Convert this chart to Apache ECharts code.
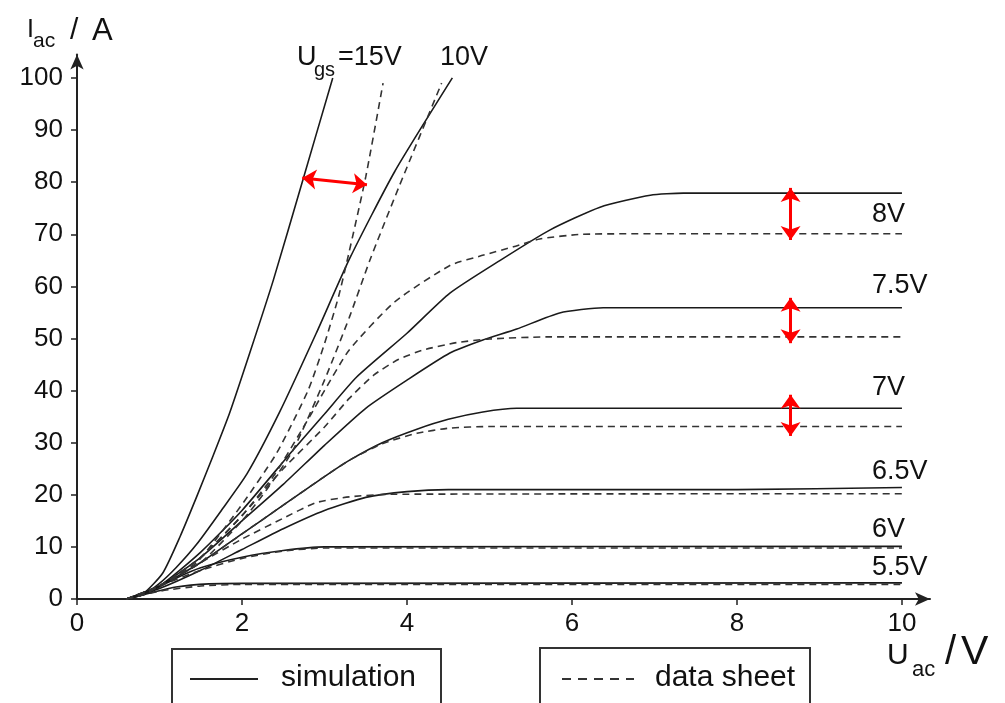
<!DOCTYPE html>
<html><head><meta charset="utf-8">
<script src="https://cdn.jsdelivr.net/npm/echarts@6/dist/echarts.min.js"></script>
<style>html,body{margin:0;padding:0;background:#fff}#c{width:1005px;height:703px}</style>
</head><body><div id="c"></div>
<script>
// ---- data (U_ac in V, I_ac in A) ----
const xTicks = [0, 2, 4, 6, 8, 10];
const yTicks = [0, 10, 20, 30, 40, 50, 60, 70, 80, 90, 100];
const curveLabels = ['8V', '7.5V', '7V', '6.5V', '6V', '5.5V'];

const sim15 = [[0.6,0],[0.8,1],[1.04,5],[1.25,12],[1.45,19.6],[1.65,27.5],[1.85,35.7],[2.1,47.5],[2.38,61.2],[2.73,80],[3.1,100]];
const sim10 = [[0.6,0],[0.8,0.8],[1.0,3],[1.2,6],[1.45,10.5],[1.75,17],[2.06,24],[2.46,36],[2.9,51],[3.31,65.5],[3.85,82],[4.55,100]];
const sim8 = [[0.6,0],[1.0,2.5],[1.5,9],[2.0,17],[2.62,28.6],[3.0,35.5],[3.39,42.6],[4.0,51],[4.52,58.7],[5.13,65],[5.73,70.8],[6.34,75.2],[6.95,77.5],[7.35,77.9],[10,77.9]];
const sim75 = [[0.6,0],[1.0,2.5],[1.5,8],[2.0,15],[2.5,22],[3.0,29.5],[3.5,36.6],[4.0,42],[4.52,47.2],[4.92,49.7],[5.33,51.8],[5.85,54.9],[6.38,55.9],[10,55.9]];
const sim7 = [[0.6,0],[1.0,2.5],[1.5,7],[2.0,12.5],[2.5,18],[3.0,23.5],[3.31,26.7],[3.7,30],[4.12,32.6],[4.5,34.5],[4.92,35.9],[5.33,36.6],[10,36.6]];
const sim65 = [[0.6,0],[1.0,2],[1.5,5.5],[2.0,9.5],[2.5,13.5],[3.0,17],[3.5,19.5],[4.0,20.6],[4.5,21.0],[8.0,21.0],[10,21.4]];
const sim6 = [[0.6,0],[0.9,1.5],[1.2,4],[1.5,6],[2.0,8],[2.5,9.3],[3.0,10],[10,10.1]];
const sim55 = [[0.6,0],[0.9,1.2],[1.2,2.3],[1.6,2.9],[2.0,3.0],[10,3.1]];

const ds15 = [[0.6,0],[0.8,0.8],[1.0,2.5],[1.45,7],[1.98,17.7],[2.42,28],[2.8,40],[3.0,49],[3.17,58],[3.29,66],[3.5,81],[3.71,99]];
const ds10 = [[0.6,0],[0.8,0.8],[1.0,2.5],[1.5,7],[2.0,15],[2.3,21],[2.62,28.6],[3.0,42],[3.3,54],[3.55,65],[3.9,79],[4.42,99]];
const ds8 = [[0.6,0],[1.0,2.5],[1.5,8],[2.0,16],[2.4,24],[2.82,35],[3.0,40],[3.3,47.8],[3.85,57],[4.52,64],[4.93,66],[5.29,67.6],[5.61,69.1],[6.13,70],[7.0,70.1],[10,70.1]];
const ds75 = [[0.6,0],[1.0,2.5],[1.5,8],[2.0,16],[2.5,25],[3.0,33],[3.3,38.5],[3.6,43],[3.9,46],[4.2,47.8],[4.6,49.2],[5.0,49.9],[5.7,50.3],[10,50.3]];
const ds7 = [[0.6,0],[1.0,2.5],[1.5,7],[2.0,12.5],[2.5,18],[3.0,23.5],[3.31,26.7],[3.7,29.8],[4.12,31.8],[4.52,32.8],[5.0,33.1],[10,33.1]];
const ds65 = [[0.6,0],[1.0,2.5],[1.5,7],[2.0,11.5],[2.5,15.5],[2.9,18.5],[3.3,19.6],[3.8,20.1],[10,20.2]];
const ds6 = [[0.6,0],[1.0,2.5],[1.5,5.5],[2.0,7.8],[2.5,9.2],[3.0,9.8],[10,9.8]];
const ds55 = [[0.6,0],[1.0,1.5],[1.5,2.5],[2.0,2.8],[10,2.8]];

// red comparison arrows: [start, end] in data coordinates
const arrowH15 = [[2.73,80.8],[3.515,79.5]];
const arrow8 = [[8.65,78.9],[8.65,68.9]];
const arrow75 = [[8.65,57.8],[8.65,49.1]];
const arrow7 = [[8.65,39.2],[8.65,31.3]];

const simCurves = [sim15, sim10, sim8, sim75, sim7, sim65, sim6, sim55];
const dsCurves = [ds15, ds10, ds8, ds75, ds7, ds65, ds6, ds55];

const FONT = '"Liberation Sans", Arial, sans-serif';
const chart = echarts.init(document.getElementById('c'));

const series = [];
simCurves.forEach((d, i) => series.push({
  type: 'line', name: 'simulation', data: d, showSymbol: false, smooth: 0.2,
  lineStyle: { color: '#1a1a1a', width: 1.6, type: 'solid' }, silent: true, z: 3
}));
dsCurves.forEach((d, i) => series.push({
  type: 'line', name: 'data sheet', data: d, showSymbol: false, smooth: 0.2,
  lineStyle: { color: '#333', width: 1.6, type: [7, 5] }, silent: true, z: 3
}));
const arrows = [arrowH15, arrow8, arrow75, arrow7];
series.push({
  type: 'line', data: [], silent: true, z: 10,
  markLine: {
    silent: true, animation: false,
    symbol: ['arrow', 'arrow'], symbolSize: [15, 14],
    label: { show: false },
    lineStyle: { color: '#ff0000', width: 3, type: 'solid' },
    emphasis: { disabled: true },
    data: arrows.map(a => [{ coord: a[0] }, { coord: a[1] }])
  }
});

function txt(x, y, s, size, align) {
  return { type: 'text', silent: true, x: x, y: y, z: 20,
    style: { text: s, font: size + 'px ' + FONT, fill: '#111', align: align || 'left', verticalAlign: 'middle' } };
}

const labelY = [215, 286, 388, 472, 530, 568];
const graphics = [
  // y axis title
  txt(27, 30, 'I', 25), txt(33, 41, 'ac', 21), txt(70, 31, '/', 30), txt(92, 31, 'A', 31),
  // x axis title
  txt(887, 656, 'U', 30), txt(912, 670, 'ac', 22), txt(945, 653, '/', 40), txt(961, 653, 'V', 41),
  // gate voltage labels at top
  txt(297, 58, 'U', 27), txt(314, 70, 'gs', 20), txt(338, 58, '=15V', 27),
  txt(440, 58, '10V', 27),
  // legend boxes
  { type: 'rect', silent: true, shape: { x: 172, y: 649, width: 269, height: 62 },
    style: { fill: 'none', stroke: '#333', lineWidth: 2 } },
  { type: 'line', silent: true, shape: { x1: 190, y1: 679, x2: 258, y2: 679 },
    style: { stroke: '#222', lineWidth: 2 } },
  txt(281, 678, 'simulation', 30),
  { type: 'rect', silent: true, shape: { x: 540, y: 648, width: 270, height: 62 },
    style: { fill: 'none', stroke: '#333', lineWidth: 2 } },
  { type: 'line', silent: true, shape: { x1: 562, y1: 679, x2: 634, y2: 679 },
    style: { stroke: '#333', lineWidth: 2, lineDash: [9, 7] } },
  txt(655, 678, 'data sheet', 30)
];
curveLabels.forEach((s, i) => graphics.push(txt(872, labelY[i], s, 27)));

chart.setOption({
  animation: false,
  backgroundColor: '#fff',
  grid: { left: 77, right: 75, top: 54.5, bottom: 104, containLabel: false },
  xAxis: {
    type: 'value', min: 0, max: 10.34,
    axisLine: { lineStyle: { color: '#222', width: 2 }, symbol: ['none', 'arrow'], symbolSize: [10, 15] },
    axisTick: { show: true, length: 6, lineStyle: { color: '#222', width: 1.5 }, customValues: xTicks },
    axisLabel: { customValues: xTicks, margin: 12, fontSize: 26, fontFamily: FONT, color: '#111' },
    splitLine: { show: false }
  },
  yAxis: {
    type: 'value', min: 0, max: 104.5,
    axisLine: { show: true, lineStyle: { color: '#222', width: 2 }, symbol: ['none', 'arrow'], symbolSize: [10, 15] },
    axisTick: { show: true, length: 6, lineStyle: { color: '#222', width: 1.5 }, customValues: yTicks },
    axisLabel: { customValues: yTicks, margin: 14, fontSize: 26, fontFamily: FONT, color: '#111' },
    splitLine: { show: false }
  },
  series: series,
  graphic: graphics
});
</script>
</body></html>
